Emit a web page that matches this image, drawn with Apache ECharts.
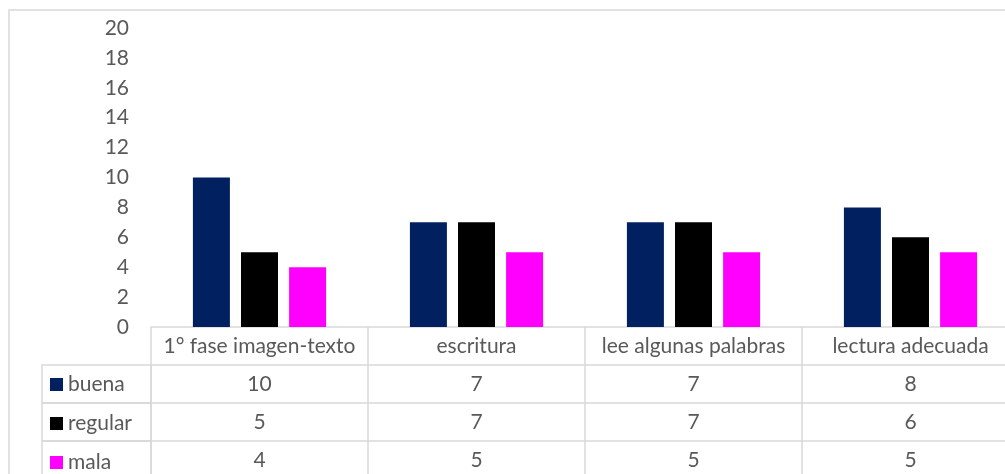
<!DOCTYPE html>
<html>
<head>
<meta charset="utf-8">
<script src="https://cdn.jsdelivr.net/npm/echarts@6/dist/echarts.min.js"></script>
<style>
  html, body { margin: 0; padding: 0; overflow: hidden; background: #fff; }
  #chart { width: 1030px; height: 474px; }
</style>
</head>
<body>
<div id="chart"></div>
<script>
const categories = ["1° fase imagen-texto", "escritura", "lee algunas palabras", "lectura adecuada"];
const buena = [10, 7, 7, 8];
const regular = [5, 7, 7, 6];
const mala = [4, 5, 5, 5];
const seriesNames = ["buena", "regular", "mala"];
const colors = ["#002060", "#000000", "#FF00FF"];

const FONT = 'Lato, "Open Sans", sans-serif';
const TEXT = "#595959";
const LINE = "#d9d9d9";
const ROW = 38;
const FS = 21;

function tableAxis(offset, formatter) {
  return {
    type: "category",
    data: categories,
    position: "bottom",
    offset: offset,
    axisLine: { show: true, lineStyle: { color: LINE, width: 1.5 } },
    axisTick: { show: true, length: ROW, lineStyle: { color: LINE, width: 1.5 } },
    axisLabel: {
      color: TEXT, fontFamily: FONT, fontSize: FS, margin: 9,
      interval: 0, formatter: formatter
    },
    splitLine: { show: false }
  };
}

const chart = echarts.init(document.getElementById("chart"));
chart.setOption({
  animation: false,
  color: colors,
  textStyle: { fontFamily: FONT },
  grid: { left: 151, right: 11, top: 28, bottom: 147 },
  legend: {
    data: seriesNames,
    orient: "vertical",
    left: 50,
    top: 374,
    padding: 0,
    icon: "rect",
    itemWidth: 13,
    itemHeight: 13,
    itemGap: 18,
    selectedMode: false,
    textStyle: { color: TEXT, fontFamily: FONT, fontSize: FS, lineHeight: 20 }
  },
  xAxis: [
    tableAxis(0, null),
    tableAxis(ROW, (v, i) => String(buena[i])),
    tableAxis(ROW * 2, (v, i) => String(regular[i])),
    tableAxis(ROW * 3, (v, i) => String(mala[i]))
  ],
  yAxis: {
    type: "value",
    min: 0, max: 20, interval: 2,
    axisLine: { show: false },
    axisTick: { show: false },
    splitLine: { show: false },
    axisLabel: { color: TEXT, fontFamily: FONT, fontSize: FS, margin: 22 }
  },
  graphic: [
    { type: "rect", shape: { x: 9, y: 10, width: 1100, height: 500 }, style: { fill: null, stroke: LINE, lineWidth: 1.5 }, silent: true },
    { type: "rect", shape: { x: 42, y: 365, width: 109, height: ROW }, style: { fill: null, stroke: LINE, lineWidth: 1.5 }, silent: true },
    { type: "rect", shape: { x: 42, y: 403, width: 109, height: ROW }, style: { fill: null, stroke: LINE, lineWidth: 1.5 }, silent: true },
    { type: "rect", shape: { x: 42, y: 441, width: 109, height: ROW }, style: { fill: null, stroke: LINE, lineWidth: 1.5 }, silent: true }
  ],
  series: [
    { name: "buena", type: "bar", data: buena, barWidth: 37, barGap: "30%" },
    { name: "regular", type: "bar", data: regular, barWidth: 37, barGap: "30%" },
    { name: "mala", type: "bar", data: mala, barWidth: 37, barGap: "30%" }
  ]
});
</script>
</body>
</html>
